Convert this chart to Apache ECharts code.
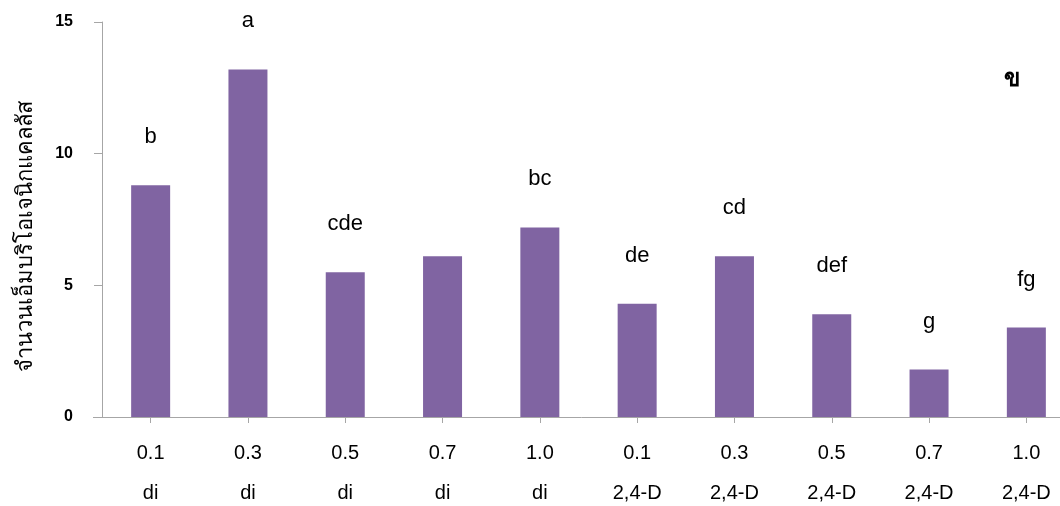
<!DOCTYPE html>
<html>
<head>
<meta charset="utf-8">
<script src="https://cdn.jsdelivr.net/npm/echarts@6/dist/echarts.min.js"></script>
<style>
  html, body { margin: 0; padding: 0; background: #fff; }
  #chart { width: 1060px; height: 506px; }
</style>
</head>
<body>
<div id="chart"></div>
<script>
// Embryogenic callus counts by concentration and growth regulator
const concentrations = ['0.1', '0.3', '0.5', '0.7', '1.0', '0.1', '0.3', '0.5', '0.7', '1.0'];
const regulators = ['di', 'di', 'di', 'di', 'di', '2,4-D', '2,4-D', '2,4-D', '2,4-D', '2,4-D'];
const callusCounts = [8.8, 13.2, 5.5, 6.1, 7.2, 4.3, 6.1, 3.9, 1.8, 3.4];
const groupLetters = ['b', 'a', 'cde', '', 'bc', 'de', 'cd', 'def', 'g', 'fg'];
const yTicks = [0, 5, 10, 15];
const yTitle = 'จำนวนเอ็มบริโอเจนิกแคลลัส';

const categories = concentrations.map((c, i) => c + '\n' + regulators[i]);

const chart = echarts.init(document.getElementById('chart'), null, { renderer: 'canvas' });

chart.setOption({
  animation: false,
  backgroundColor: '#ffffff',
  grid: { left: 102, top: 22, bottom: 89, width: 973, containLabel: false, outerBoundsMode: 'none' },
  graphic: [{
    type: 'text',
    left: 1004,
    top: 68,
    style: { text: 'ข', font: 'bold 24px "Liberation Serif", "DejaVu Serif", serif', fill: '#000' }
  }, {
    type: 'text',
    x: 26,
    y: 236,
    rotation: Math.PI / 2,
    style: {
      text: yTitle,
      font: '22px "Liberation Sans", "DejaVu Sans", "Noto Sans", sans-serif',
      fill: '#000',
      align: 'center',
      verticalAlign: 'middle'
    }
  }, {
    // short extension of the category axis line to the left of the value axis
    type: 'line',
    shape: { x1: 93, y1: 417.5, x2: 102, y2: 417.5 },
    style: { stroke: '#a6a6a6', lineWidth: 1 }
  }],
  xAxis: {
    type: 'category',
    data: categories,
    axisLine: { show: true, lineStyle: { color: '#a6a6a6', width: 1 } },
    axisTick: { show: true, alignWithLabel: true, length: 6, lineStyle: { color: '#a6a6a6' } },
    axisLabel: {
      margin: 16,
      interval: 0,
      color: '#000',
      fontFamily: '"Liberation Sans", Arial, sans-serif',
      fontSize: 20,
      lineHeight: 40
    }
  },
  yAxis: {
    type: 'value',
    min: yTicks[0],
    max: yTicks[yTicks.length - 1],
    interval: 5,
    splitLine: { show: false },
    axisLine: { show: true, lineStyle: { color: '#a6a6a6', width: 1 } },
    axisTick: { show: true, length: 8, lineStyle: { color: '#a6a6a6' } },
    axisLabel: {
      margin: 29,
      color: '#000',
      fontWeight: 'bold',
      fontSize: 16,
      fontFamily: '"Liberation Sans", Arial, sans-serif'
    }
  },
  series: [{
    type: 'bar',
    data: callusCounts,
    barWidth: 39,
    itemStyle: { color: '#8064a2' },
    label: {
      show: true,
      position: 'top',
      distance: 37,
      color: '#000',
      fontSize: 22,
      fontFamily: '"Liberation Sans", Arial, sans-serif',
      formatter: p => groupLetters[p.dataIndex]
    }
  }]
});
</script>
</body>
</html>
